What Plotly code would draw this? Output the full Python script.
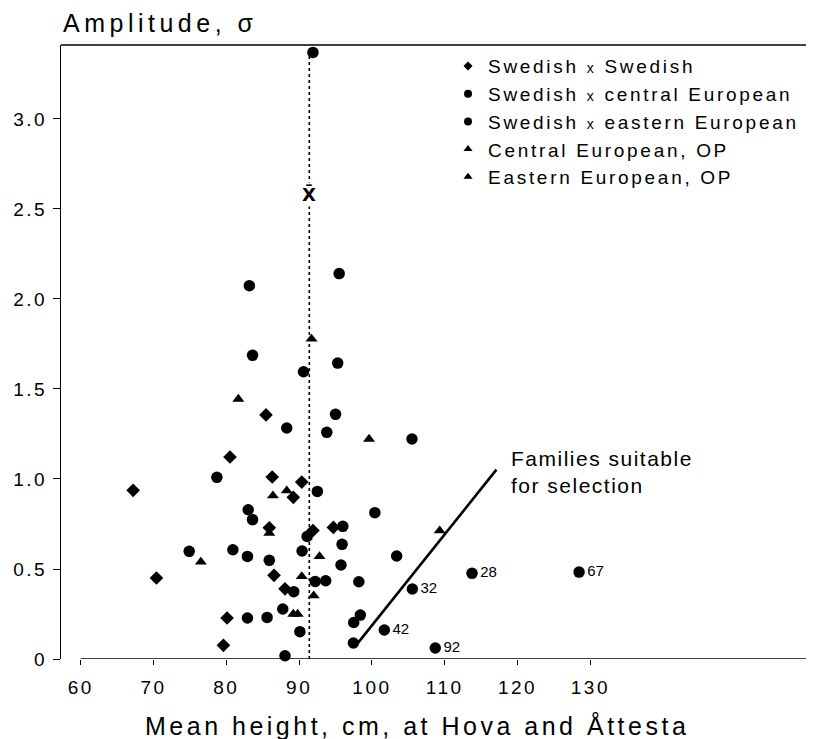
import plotly.graph_objects as go

FONT = "Liberation Sans, Arial, Helvetica, sans-serif"

# ---------------- data ----------------
# Swedish x Swedish (diamonds)
ss_height = [67.2, 70.4, 79.6, 80.1, 80.5, 85.45, 85.9, 86.3, 86.55, 88.06, 89.2, 90.36, 91.9, 94.7]
ss_amp = [0.937, 0.45, 0.076, 0.228, 1.122, 1.356, 0.729, 1.011, 0.465, 0.39, 0.898, 0.983, 0.714, 0.731]

# Swedish x central / eastern European (circles)
se_height = [74.9, 78.7, 80.9, 82.9, 82.9, 83.0, 83.6, 83.16, 83.6, 85.6, 85.9, 87.75, 88.06,
             88.3, 89.26, 90.1, 90.4, 90.6, 91.1, 91.9, 92.2, 92.5, 93.65, 93.8, 95.0, 95.3,
             95.5, 95.75, 95.9, 96.0, 97.45, 97.5, 98.2, 98.4, 100.4, 103.4, 105.5]
se_amp = [0.598, 1.009, 0.607, 0.570, 0.228, 0.829, 0.774, 2.074, 1.687, 0.231, 0.548, 0.278, 0.018,
          1.283, 0.374, 0.152, 0.600, 1.596, 0.681, 3.37, 0.431, 0.931, 0.435, 1.259, 1.359, 1.644,
          2.141, 0.522, 0.637, 0.737, 0.089, 0.203, 0.429, 0.244, 0.813, 0.572, 1.222]

# numbered families suitable for selection (circles with labels)
sel_family = ["32", "42", "92", "28", "67"]
sel_height = [105.55, 101.7, 108.7, 113.75, 128.45]
sel_amp = [0.389, 0.161, 0.061, 0.476, 0.483]

# Central / Eastern European, OP (triangles)
op_height = [76.5, 81.65, 85.9, 86.4, 88.3, 89.2, 89.8, 90.36, 91.7, 92.0, 92.8, 99.6, 109.3]
op_amp = [0.539, 1.444, 0.70, 0.907, 0.935, 0.25, 0.25, 0.459, 1.778, 0.352, 0.570, 1.222, 0.713]

# mean height and the selection boundary line
mean_height = 91.4
mean_top = 3.37
selection_x = [97.7, 117.1]
selection_y = [0.07, 1.052]

x_ticks = [60, 70, 80, 90, 100, 110, 120, 130]
y_ticks = [0, 0.5, 1.0, 1.5, 2.0, 2.5, 3.0]
y_tick_text = ["0", "0.5", "1.0", "1.5", "2.0", "2.5", "3.0"]

legend_labels = [
    ("Swedish", "Swedish", "diamond", 7),
    ("Swedish", "central European", "circle", 8),
    ("Swedish", "eastern European", "circle", 8),
]
legend_op = [("Central European, OP", "triangle-up", 8), ("Eastern European, OP", "triangle-up", 8)]


def ls(text, px):
    return f'<span style="letter-spacing:{px}px">{text}</span>'


fig = go.Figure()

# selection boundary
fig.add_trace(go.Scatter(x=selection_x, y=selection_y, mode="lines",
                         line=dict(color="black", width=2.6), showlegend=False, hoverinfo="skip"))

fig.add_trace(go.Scatter(x=ss_height, y=ss_amp, mode="markers", showlegend=False, cliponaxis=False,
                         marker=dict(symbol="diamond", size=10.5, color="black")))
fig.add_trace(go.Scatter(x=se_height, y=se_amp, mode="markers", showlegend=False, cliponaxis=False,
                         marker=dict(symbol="circle", size=11.5, color="black")))
fig.add_trace(go.Scatter(x=op_height, y=op_amp, mode="markers", showlegend=False, cliponaxis=False,
                         marker=dict(symbol="triangle-up", size=10.5, color="black")))
fig.add_trace(go.Scatter(x=sel_height, y=sel_amp, mode="markers+text", text=sel_family,
                         textposition="middle right", showlegend=False, cliponaxis=False,
                         textfont=dict(family=FONT, size=15, color="black"),
                         marker=dict(symbol="circle", size=11.5, color="black")))

# legend-only entries
LS_LEG = 2.7
for a, b, sym, sz in legend_labels:
    name = (ls(a + " ", LS_LEG) + f'<span style="font-size:14px;letter-spacing:{LS_LEG}px">x</span>'
            + ls(" " + b, LS_LEG))
    fig.add_trace(go.Scatter(x=[None], y=[None], mode="markers", name=name,
                             marker=dict(symbol=sym, size=sz, color="black")))
for lab, sym, sz in legend_op:
    fig.add_trace(go.Scatter(x=[None], y=[None], mode="markers", name=ls(lab, LS_LEG),
                             marker=dict(symbol=sym, size=sz, color="black")))

# mean line (dotted)
fig.add_shape(type="line", xref="x", yref="y", x0=mean_height, x1=mean_height, y0=0, y1=mean_top,
              line=dict(color="black", width=1.6, dash="dot"), layer="below")
# bottom axis line and top frame line
fig.add_shape(type="line", xref="x", yref="y", x0=60, x1=160.72, y0=0, y1=0,
              line=dict(color="black", width=1.5))
fig.add_shape(type="line", xref="paper", yref="paper", x0=0, x1=1, y0=1, y1=1,
              line=dict(color="black", width=1.5))

annotations = [
    dict(x=mean_height, y=2.58, xref="x", yref="y", text="<b>X\u0304</b>", showarrow=False,
         font=dict(family="DejaVu Sans", size=18, color="black"), bgcolor="white", borderpad=1),
    dict(x=118.8, y=1.19, xref="x", yref="y", xanchor="left", yanchor="top", align="left",
         text=ls("Families suitable", 1.5) + "<br>" + ls("for selection", 1.5), showarrow=False,
         font=dict(family=FONT, size=21, color="black")),
    dict(x=0, y=1.036, xref="paper", yref="paper", xanchor="left", yanchor="middle",
         text=ls("Amplitude, σ", 4.5), showarrow=False, font=dict(family=FONT, size=25, color="black")),
    dict(x=0.1089, y=-0.109, xref="paper", yref="paper", xanchor="left", yanchor="middle",
         text=ls("Mean height, cm, at Hova and Åttesta", 3.5), showarrow=False,
         font=dict(family=FONT, size=25, color="black")),
]

# the page body has an 8px default margin, so the figure is sized/offset to fill 814x739
fig.update_layout(
    width=806, height=731,
    margin=dict(l=53, r=0, t=37, b=80),
    paper_bgcolor="white", plot_bgcolor="white",
    font=dict(family=FONT, color="black"),
    annotations=annotations,
    legend=dict(x=0.514, y=0.9965, xanchor="left", yanchor="top", bgcolor="rgba(0,0,0,0)",
                font=dict(family=FONT, size=19, color="black"), tracegroupgap=0, itemwidth=30),
    xaxis=dict(range=[57.29, 160.72], showgrid=False, zeroline=False, showline=False,
               tickvals=x_ticks, ticktext=[ls(str(v), 2.5) for v in x_ticks],
               ticks="outside", ticklen=5, tickwidth=1.3, tickcolor="black",
               tickfont=dict(family=FONT, size=19, color="black"), ticklabelstandoff=6),
    yaxis=dict(range=[0, 3.411], showgrid=False, zeroline=False, showline=True, linecolor="black",
               linewidth=1.3, tickvals=y_ticks, ticktext=[ls(t, 2.5) for t in y_tick_text],
               ticks="outside", ticklen=7, tickwidth=1.3, tickcolor="black",
               tickfont=dict(family=FONT, size=19, color="black"), ticklabelstandoff=2),
)

fig.write_html("out.html")
